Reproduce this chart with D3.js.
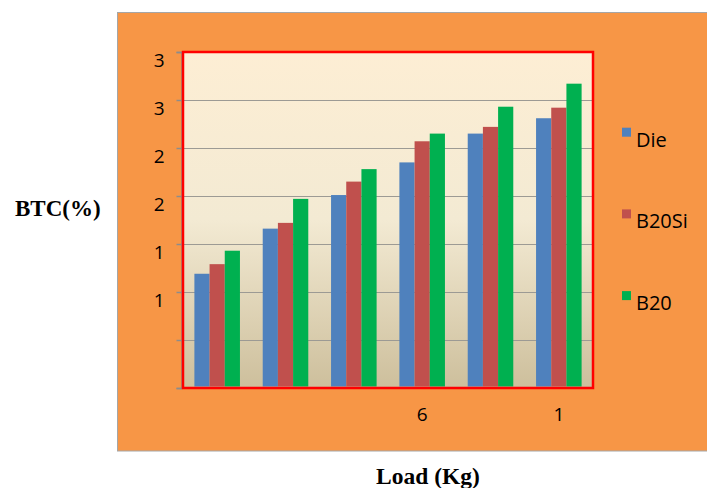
<!DOCTYPE html>
<html>
<head>
<meta charset="utf-8">
<script src="https://cdn.jsdelivr.net/npm/d3@7"></script>
<style>
  html, body { margin: 0; padding: 0; background: #ffffff; }
  svg { display: block; }
</style>
</head>
<body>
<svg id="chart" width="707" height="488"></svg>
<script>
// ---- data ----
const categories = ["L1", "L2", "L3", "L4", "L5", "L6"];
const categoryLabels = ["", "", "", "6", "", "1"];
const seriesNames = ["Die", "B20Si", "B20"];
const dieValues   = [1.19, 1.66, 2.01, 2.35, 2.65, 2.81];
const b20siValues = [1.29, 1.72, 2.15, 2.57, 2.72, 2.92];
const b20Values   = [1.43, 1.97, 2.28, 2.65, 2.93, 3.17];
const yTicks = [0, 0.5, 1, 1.5, 2, 2.5, 3, 3.5];
const yTickLabels = ["", "", "1", "1", "2", "2", "3", "3"];
const colors = ["#4F81BD", "#C0504D", "#00B050"];

const seriesValues = [dieValues, b20siValues, b20Values];

const svg = d3.select("#chart");

// outer orange chart area
svg.append("rect")
  .attr("x", 117.5).attr("y", 12.5)
  .attr("width", 600).attr("height", 438.5)
  .attr("fill", "#F79646")
  .attr("stroke", "#A6A6A6").attr("stroke-width", 1);

const plot = { left: 183, right: 593, top: 52, bottom: 388 };

const x0 = d3.scaleBand()
  .domain(categories)
  .range([plot.left, plot.right])
  .paddingInner(1/3)
  .paddingOuter(1/6);
const x1 = d3.scaleBand()
  .domain(seriesNames)
  .range([0, x0.bandwidth()]);
const y = d3.scaleLinear()
  .domain([0, 3.5])
  .range([plot.bottom, plot.top]);

// gradient fill
const defs = svg.append("defs");
const grad = defs.append("linearGradient")
  .attr("id", "plotGrad").attr("x1", 0).attr("y1", 0).attr("x2", 0).attr("y2", 1);
grad.append("stop").attr("offset", "0%").attr("stop-color", "#FDEED4");
grad.append("stop").attr("offset", "50%").attr("stop-color", "#F3EAD3");
grad.append("stop").attr("offset", "100%").attr("stop-color", "#CDBF9C");

svg.append("rect")
  .attr("x", plot.left).attr("y", plot.top)
  .attr("width", plot.right - plot.left).attr("height", plot.bottom - plot.top)
  .attr("fill", "url(#plotGrad)");

// gridlines
svg.append("g")
  .selectAll("line")
  .data(yTicks.slice(1))
  .join("line")
  .attr("x1", plot.left).attr("x2", plot.right)
  .attr("y1", d => Math.round(y(d)) + 0.5).attr("y2", d => Math.round(y(d)) + 0.5)
  .attr("stroke", "#9C9A94").attr("stroke-width", 1.2);

// y axis
const yAxis = d3.axisLeft(y)
  .tickValues(yTicks)
  .tickSize(5)
  .tickFormat((d, i) => yTickLabels[i]);
const gy = svg.append("g")
  .attr("transform", `translate(${plot.left - 1.5},0)`)
  .call(yAxis);
gy.select(".domain").attr("stroke", "#8C8C8C").attr("stroke-width", 1.5);
gy.selectAll(".tick line").attr("stroke", "#8C8C8C").attr("stroke-width", 1.5);
gy.selectAll(".tick text")
  .attr("x", -17).attr("dy", "0.75em")
  .attr("font-family", "Open Sans").attr("font-size", 19).attr("fill", "#000");

// bars
const groups = svg.append("g")
  .selectAll("g")
  .data(categories)
  .join("g")
  .attr("transform", d => `translate(${x0(d)},0)`);
groups.selectAll("rect")
  .data((d, i) => seriesNames.map((s, j) => ({ s, v: seriesValues[j][i], c: colors[j] })))
  .join("rect")
  .attr("x", d => x1(d.s))
  .attr("y", d => y(d.v))
  .attr("width", x1.bandwidth())
  .attr("height", d => y(0) - y(d.v) - 1.5)
  .attr("fill", d => d.c);

// plot border (red)
svg.append("rect")
  .attr("x", plot.left).attr("y", plot.top)
  .attr("width", plot.right - plot.left).attr("height", plot.bottom - plot.top)
  .attr("fill", "none")
  .attr("stroke", "#FF0000").attr("stroke-width", 2.5);

// x axis labels
const xAxis = d3.axisBottom(x0)
  .tickSize(0)
  .tickFormat((d, i) => categoryLabels[i]);
const gx = svg.append("g")
  .attr("transform", `translate(0,${plot.bottom})`)
  .call(xAxis);
gx.select(".domain").remove();
gx.selectAll(".tick text")
  .attr("y", 33).attr("dy", 0)
  .attr("font-family", "Open Sans").attr("font-size", 19).attr("fill", "#000");

// legend
const legend = svg.append("g")
  .selectAll("g")
  .data(seriesNames)
  .join("g")
  .attr("transform", (d, i) => `translate(622,${127.7 + i * 81.7})`);
legend.append("rect")
  .attr("width", 9).attr("height", 9)
  .attr("fill", (d, i) => colors[i]);
legend.append("text")
  .attr("x", 14).attr("y", 19)
  .attr("font-family", "Open Sans").attr("font-size", 20).attr("fill", "#000")
  .text(d => d);

// axis titles
svg.append("text")
  .attr("x", 15).attr("y", 216)
  .attr("font-family", "Liberation Serif").attr("font-weight", "bold")
  .attr("font-size", 23).attr("fill", "#000")
  .text("BTC(%)");
svg.append("text")
  .attr("x", 428).attr("y", 484)
  .attr("text-anchor", "middle")
  .attr("font-family", "Liberation Serif").attr("font-weight", "bold")
  .attr("font-size", 23.5).attr("fill", "#000")
  .text("Load (Kg)");
</script>
</body>
</html>
